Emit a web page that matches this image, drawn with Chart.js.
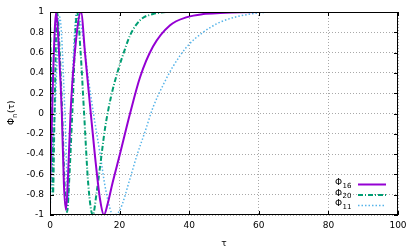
<!DOCTYPE html>
<html>
<head>
<meta charset="utf-8">
<script src="https://cdn.jsdelivr.net/npm/chart.js@4.4.0/dist/chart.umd.min.js"></script>
<style>
  html, body { margin: 0; padding: 0; background: #fff; }
  #wrap { width: 415px; height: 249px; }
</style>
</head>
<body>
<div id="wrap"><canvas id="c" width="415" height="249"></canvas></div>
<script>
const tau16 = [0, 0.6, 1.0, 1.8, 2.6, 3.4, 4.0, 4.6, 5.2, 5.9, 7.0, 8.9, 10.1, 11.5, 12.9, 14.4, 15.5, 16.5, 18.0, 20.1, 23, 25.9, 29.6, 34.5, 39.4, 44, 48.9, 60, 100];
const phi16 = [-0.75, 0, 0.5, 1, 0.6, 0, -0.7, -0.95, -0.6, 0, 0.55, 1, 0.58, 0.08, -0.41, -0.85, -1, -0.9, -0.68, -0.4, 0, 0.36, 0.66, 0.87, 0.95, 0.98, 0.99, 1, 1];

const tau20 = [0, 0.5, 0.85, 1.3, 2.0, 2.8, 3.5, 4.2, 4.9, 5.6, 6.4, 7.8, 8.8, 9.8, 11, 12.3, 13.4, 14.4, 15.8, 17.5, 19.6, 21.5, 23, 25.9, 29.6, 35, 100];
const phi20 = [0.95, 0, -0.8, 0, 1, 0.6, 0, -0.7, -0.97, -0.6, 0, 1, 0.6, 0, -0.7, -1, -0.78, -0.52, -0.15, 0.16, 0.43, 0.63, 0.77, 0.92, 0.98, 1, 1];

const tau11 = [0, 1.4, 2.8, 4.3, 5.2, 6.0, 7.7, 9.5, 11, 12.5, 14.4, 16, 18.2, 20.1, 23, 25, 27.3, 29.6, 32.5, 35.3, 39.4, 44, 48.9, 57.5, 65, 100];
const phi11 = [-0.95, 0, 0.95, 0, -0.85, 0, 1, 0.75, 0.35, 0, -0.4, -0.75, -1, -0.95, -0.64, -0.41, -0.18, 0.06, 0.28, 0.46, 0.66, 0.8, 0.9, 0.98, 1, 1];

const xTicks = [0, 20, 40, 60, 80, 100];
const yTicks = [-1, -0.8, -0.6, -0.4, -0.2, 0, 0.2, 0.4, 0.6, 0.8, 1];

const legendItems = [
  { base: 'Φ', sub: '16', color: '#9400d3', dash: [], width: 2 },
  { base: 'Φ', sub: '20', color: '#009e73', dash: [5, 2, 1, 2], width: 2 },
  { base: 'Φ', sub: '11', color: '#56b4e9', dash: [1.5, 2], width: 1.5 }
];

const FONT = 'DejaVu Sans';

function pts(xs, ys) {
  return xs.map((x, i) => ({ x: x, y: ys[i] }));
}

// gnuplot style border, inward ticks, legend and y title
const decor = {
  id: 'decor',
  afterDatasetsDraw(chart) {
    const ctx = chart.ctx;
    const a = chart.chartArea;
    const xs = chart.scales.x, ys = chart.scales.y;
    ctx.save();
    ctx.strokeStyle = '#000';
    ctx.lineWidth = 1;
    ctx.setLineDash([]);
    ctx.strokeRect(a.left + 0.5, a.top + 0.5, a.right - a.left - 1, a.bottom - a.top - 1);
    ctx.beginPath();
    xTicks.forEach(v => {
      const p = Math.round(xs.getPixelForValue(v)) + 0.5;
      ctx.moveTo(p, a.bottom); ctx.lineTo(p, a.bottom - 4);
      ctx.moveTo(p, a.top); ctx.lineTo(p, a.top + 4);
    });
    yTicks.forEach(v => {
      const p = Math.round(ys.getPixelForValue(v)) + 0.5;
      ctx.moveTo(a.left, p); ctx.lineTo(a.left + 4, p);
      ctx.moveTo(a.right, p); ctx.lineTo(a.right - 4, p);
    });
    ctx.stroke();

    // legend
    ctx.textBaseline = 'middle';
    legendItems.forEach((it, i) => {
      const y = 184 + i * 10.5;
      ctx.fillStyle = '#000';
      ctx.font = '9px "' + FONT + '"';
      ctx.textAlign = 'left';
      ctx.fillText(it.base, 335, y - 1);
      const w = ctx.measureText(it.base).width;
      ctx.font = '7px "' + FONT + '"';
      ctx.fillText(it.sub, 335 + w + 0.5, y + 2);
      ctx.beginPath();
      ctx.strokeStyle = it.color;
      ctx.lineWidth = it.width;
      ctx.setLineDash(it.dash);
      ctx.moveTo(358, y + 0.5);
      ctx.lineTo(386, y + 0.5);
      ctx.stroke();
    });

    // y title, with a small subscript n
    ctx.setLineDash([]);
    ctx.translate(12, 113);
    ctx.rotate(-Math.PI / 2);
    ctx.fillStyle = '#000';
    ctx.textAlign = 'left';
    const p1 = 'Φ', p3 = '(τ)';
    ctx.font = '9px "' + FONT + '"';
    const w1 = ctx.measureText(p1).width;
    ctx.font = '7px "' + FONT + '"';
    const w2 = ctx.measureText('n').width;
    ctx.font = '9px "' + FONT + '"';
    const w3 = ctx.measureText(p3).width;
    const x0 = -(w1 + w2 + w3) / 2;
    ctx.fillText(p1, x0, 0);
    ctx.font = '7px "' + FONT + '"';
    ctx.fillText('n', x0 + w1, 3);
    ctx.font = '9px "' + FONT + '"';
    ctx.fillText(p3, x0 + w1 + w2 + 0.5, 0);
    ctx.restore();
  }
};

const gridStyle = {
  color: 'rgba(160,160,160,0.9)',
  lineWidth: 1,
  drawTicks: false
};

new Chart(document.getElementById('c').getContext('2d'), {
  type: 'line',
  data: {
    datasets: [
      {
        label: 'Φ16', data: pts(tau16, phi16),
        borderColor: '#9400d3', borderWidth: 2, pointRadius: 0,
        cubicInterpolationMode: 'monotone', fill: false
      },
      {
        label: 'Φ20', data: pts(tau20, phi20),
        borderColor: '#009e73', borderWidth: 2, borderDash: [5, 2, 1, 2], pointRadius: 0,
        cubicInterpolationMode: 'monotone', fill: false
      },
      {
        label: 'Φ11', data: pts(tau11, phi11),
        borderColor: '#56b4e9', borderWidth: 1.5, borderDash: [1.5, 2], pointRadius: 0,
        cubicInterpolationMode: 'monotone', fill: false
      }
    ]
  },
  options: {
    responsive: false,
    animation: false,
    devicePixelRatio: 1,
    layout: { padding: { top: 12, right: 17, left: 0, bottom: 0 } },
    plugins: {
      legend: { display: false },
      tooltip: { enabled: false }
    },
    scales: {
      x: {
        type: 'linear', min: 0, max: 100,
        afterBuildTicks: s => { s.ticks = xTicks.map(v => ({ value: v })); },
        afterFit: s => { s.height = 34; },
        grid: gridStyle,
        border: { display: false, dash: [1, 2] },
        ticks: {
          color: '#000', padding: 5, maxRotation: 0,
          font: { family: FONT, size: 9 }
        },
        title: {
          display: true, text: 'τ', color: '#000', padding: { top: 4, bottom: 0 },
          font: { family: FONT, size: 9 }
        }
      },
      y: {
        min: -1, max: 1,
        afterBuildTicks: s => { s.ticks = yTicks.map(v => ({ value: v })); },
        afterFit: s => { s.width = 50; },
        grid: gridStyle,
        border: { display: false, dash: [1, 2] },
        ticks: {
          color: '#000', padding: 6,
          font: { family: FONT, size: 9 },
          callback: v => String(+v.toFixed(1))
        }
      }
    }
  },
  plugins: [decor]
});
</script>
</body>
</html>
